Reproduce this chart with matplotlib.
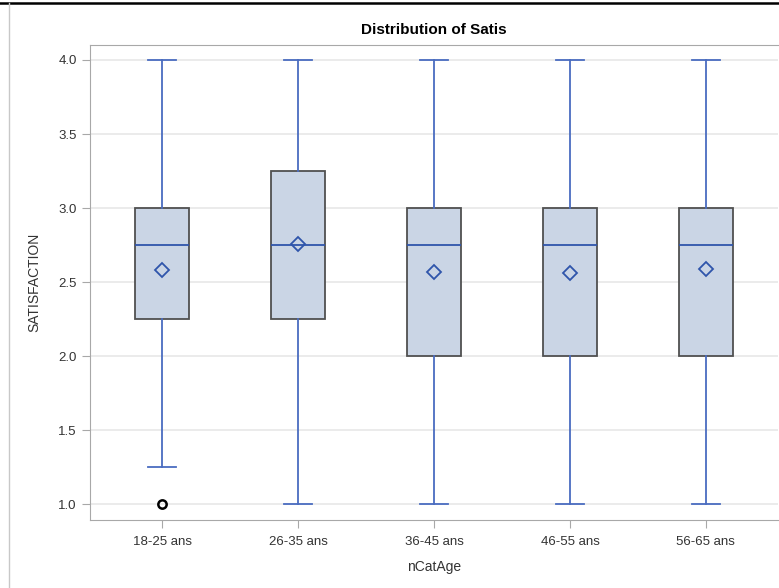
import matplotlib.pyplot as plt
from matplotlib.lines import Line2D

plt.rcParams['font.family'] = ['Liberation Sans', 'DejaVu Sans']

groups = ["18-25 ans", "26-35 ans", "36-45 ans", "46-55 ans", "56-65 ans"]
q1 = [2.25, 2.25, 2.0, 2.0, 2.0]
med = [2.75, 2.75, 2.75, 2.75, 2.75]
q3 = [3.0, 3.25, 3.0, 3.0, 3.0]
whislo = [1.25, 1.0, 1.0, 1.0, 1.0]
whishi = [4.0, 4.0, 4.0, 4.0, 4.0]
means = [2.58, 2.76, 2.57, 2.56, 2.59]
outliers = [[1.0], [], [], [], []]
yticks = [1.0, 1.5, 2.0, 2.5, 3.0, 3.5, 4.0]

line_col = '#4a6cc0'
med_col = '#2f55ab'
fill_col = '#cad5e5'
edge_col = '#505050'
spine_col = '#a8a8a8'

fig = plt.figure(figsize=(7.79, 5.88), dpi=100)
ax = fig.add_axes([90 / 779, 1 - 520 / 588, 688 / 779, 475 / 588])

stats = []
for i in range(len(groups)):
    stats.append(dict(med=med[i], q1=q1[i], q3=q3[i], whislo=whislo[i],
                      whishi=whishi[i], mean=means[i], fliers=outliers[i]))

ax.bxp(stats, positions=range(len(groups)), widths=0.40, capwidths=0.21,
       showmeans=True, patch_artist=True, zorder=3,
       boxprops=dict(facecolor=fill_col, edgecolor=edge_col, linewidth=1.3),
       whiskerprops=dict(color=line_col, linewidth=1.3),
       capprops=dict(color=line_col, linewidth=1.3),
       medianprops=dict(color=med_col, linewidth=1.3),
       meanprops=dict(marker='D', markerfacecolor='none', markeredgecolor=med_col,
                      markersize=7, markeredgewidth=1.3),
       flierprops=dict(marker='o', markerfacecolor='none', markeredgecolor='black',
                       markersize=6, markeredgewidth=1.8))

ax.set_xlim(-0.53, 4.53)
ax.set_ylim(0.894, 4.101)
ax.set_yticks(yticks)
ax.set_yticklabels([f"{v:.1f}" for v in yticks])
ax.set_xticks(range(len(groups)))
ax.set_xticklabels(groups)
ax.yaxis.grid(True, color='#e8e8e8', linewidth=1.2, zorder=0)
ax.set_axisbelow(True)
for s in ax.spines.values():
    s.set_color(spine_col)
ax.spines['right'].set_visible(False)
ax.tick_params(colors=spine_col, labelcolor='#333333', labelsize=9.5, length=6)
ax.tick_params(axis='x', pad=5.5)

ax.set_title("Distribution of Satis", fontsize=11, fontweight='bold', pad=8)
ax.set_xlabel("nCatAge", fontsize=10, color='#333333', labelpad=9)
ax.set_ylabel("SATISFACTION", fontsize=10, color='#333333', labelpad=12)

# screenshot frame
fig.add_artist(Line2D([0, 1], [1 - 2.5 / 588] * 2, color='black', linewidth=1.8))
fig.add_artist(Line2D([8.5 / 779] * 2, [0, 1 - 2.5 / 588], color='#c8c8c8', linewidth=1))

fig.savefig("out.png", dpi=100)
